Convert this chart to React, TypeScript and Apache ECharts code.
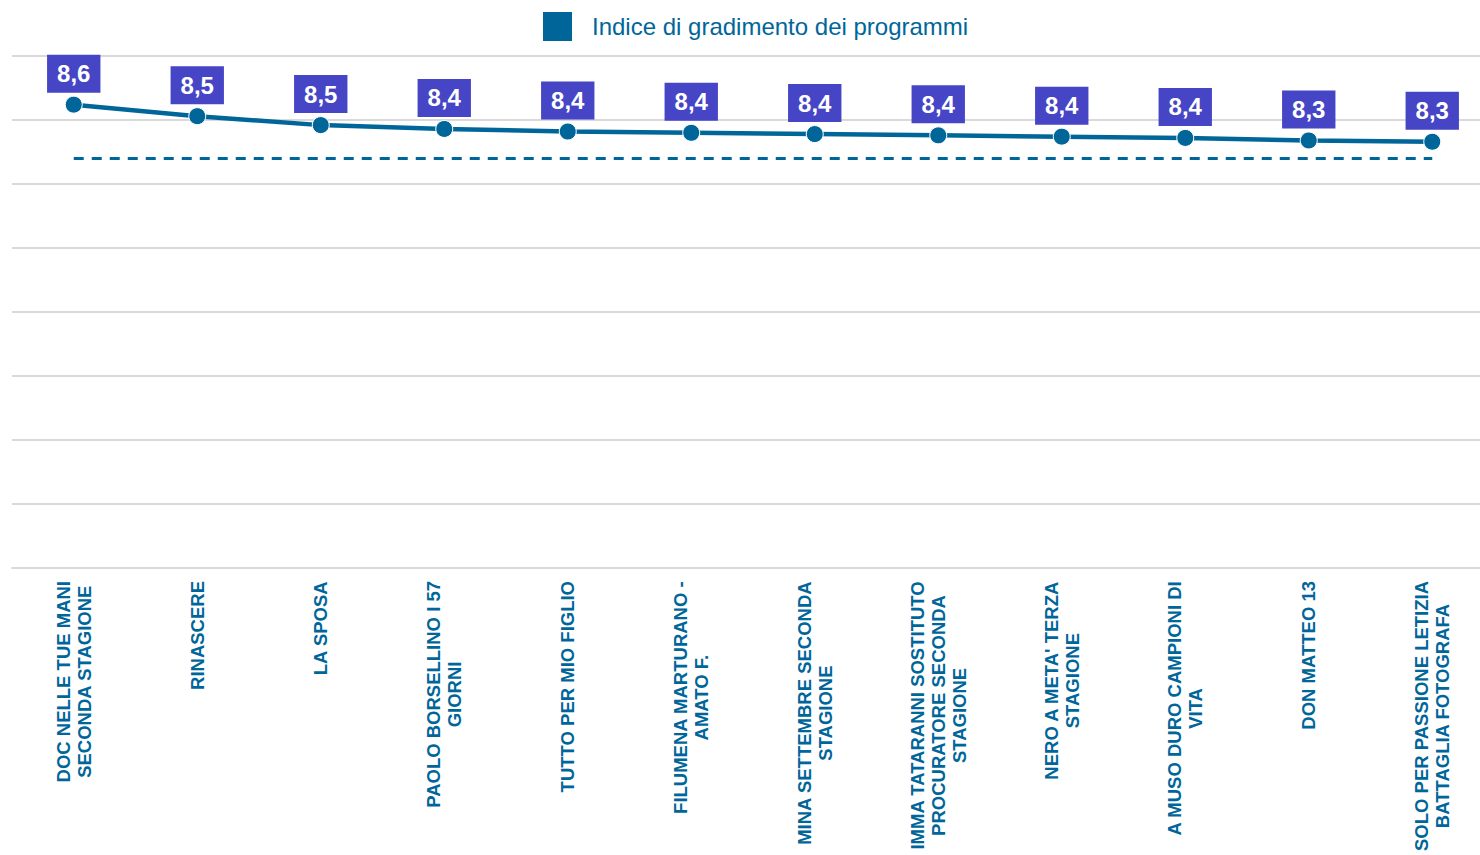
import React, { useEffect, useRef } from "react";
import * as echarts from "echarts";

const categories: string[] = [
  "DOC NELLE TUE MANI\nSECONDA STAGIONE",
  "RINASCERE",
  "LA SPOSA",
  "PAOLO BORSELLINO I 57\nGIORNI",
  "TUTTO PER MIO FIGLIO",
  "FILUMENA MARTURANO -\nAMATO F.",
  "MINA SETTEMBRE SECONDA\nSTAGIONE",
  "IMMA TATARANNI SOSTITUTO\nPROCURATORE SECONDA\nSTAGIONE",
  "NERO A META' TERZA\nSTAGIONE",
  "A MUSO DURO CAMPIONI DI\nVITA",
  "DON MATTEO 13",
  "SOLO PER PASSIONE LETIZIA\nBATTAGLIA FOTOGRAFA",
];

const gradimento: number[] = [8.62, 8.53, 8.46, 8.43, 8.41, 8.4, 8.39, 8.38, 8.37, 8.36, 8.34, 8.33];

const riferimento: number[] = [8.2, 8.2, 8.2, 8.2, 8.2, 8.2, 8.2, 8.2, 8.2, 8.2, 8.2, 8.2];

const seriesName = "Indice di gradimento dei programmi";

const BLUE = "#00669a";
const PURPLE = "#4545c5";

export default function App() {
  const ref = useRef<HTMLDivElement>(null);

  useEffect(() => {
    if (!ref.current) return;
    const chart = echarts.init(ref.current, undefined, { renderer: "svg" });
    chart.setOption({
      animation: false,
      backgroundColor: "#ffffff",
      legend: {
        data: [seriesName],
        left: 541,
        top: 10,
        padding: 0,
        itemWidth: 31,
        itemHeight: 31,
        icon: "rect",
        itemStyle: { color: BLUE },
        textStyle: {
          fontFamily: "Liberation Sans, Arial, sans-serif",
          fontSize: 24,
          color: BLUE,
          padding: [0, 0, 0, 14],
        },
      },
      grid: {
        left: 12,
        top: 56,
        right: 0,
        height: 512,
        containLabel: false,
      },
      xAxis: {
        type: "category",
        data: categories,
        boundaryGap: true,
        axisLine: { show: true, lineStyle: { color: "#d9d9d9", width: 2 } },
        axisTick: { show: false },
        axisLabel: {
          interval: 0,
          rotate: 90,
          margin: 13,
          formatter: (v: string) =>
            v
              .split("\n")
              .map((l) => `{c|${l}}`)
              .join("\n"),
          rich: {
            c: {
              align: "center",
              fontFamily: "Liberation Sans, Arial, sans-serif",
              fontSize: 18.5,
              fontWeight: "bold",
              color: BLUE,
              lineHeight: 21,
            },
          },
        },
      },
      yAxis: {
        type: "value",
        min: 5,
        max: 9,
        interval: 0.5,
        axisLabel: { show: false },
        axisLine: { show: false },
        axisTick: { show: false },
        splitLine: { show: true, lineStyle: { color: "#d9d9d9", width: 2 } },
      },
      series: [
        {
          name: seriesName,
          type: "line",
          data: gradimento,
          symbol: "circle",
          symbolSize: 17,
          lineStyle: { color: BLUE, width: 4.5 },
          itemStyle: { color: BLUE, borderColor: "#ffffff", borderWidth: 1 },
          z: 3,
          label: {
            show: true,
            position: "top",
            distance: 3,
            formatter: (p: any) => p.value.toFixed(1).replace(".", ","),
            backgroundColor: PURPLE,
            color: "#ffffff",
            fontFamily: "Liberation Sans, Arial, sans-serif",
            fontWeight: "bold",
            fontSize: 24,
            lineHeight: 24,
            padding: [7, 10, 7, 10],
          },
        },
        {
          name: "Riferimento",
          type: "line",
          data: riferimento,
          symbol: "none",
          lineStyle: { color: BLUE, width: 3, type: [10, 8] },
          z: 2,
          silent: true,
        },
      ],
    });
    return () => chart.dispose();
  }, []);

  return (
    <div
      style={{
        position: "fixed",
        left: 0,
        top: 0,
        width: 1480,
        height: 855,
        overflow: "hidden",
        background: "#ffffff",
      }}
    >
      <div ref={ref} style={{ width: 1494, height: 855 }} />
    </div>
  );
}
